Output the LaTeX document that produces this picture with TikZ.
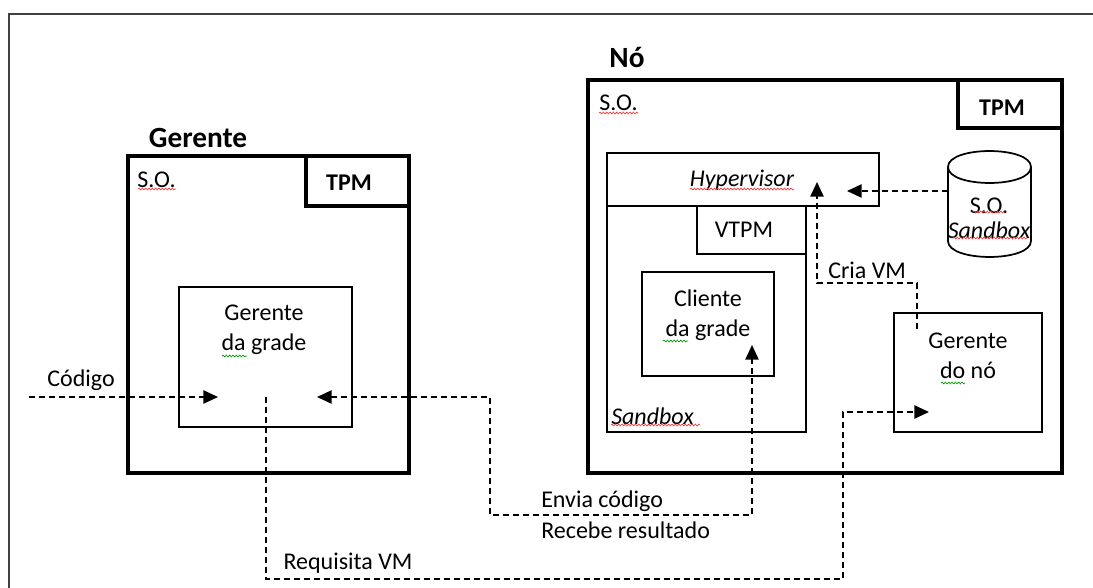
\documentclass[tikz,border=0pt]{standalone}
\usepackage{fontspec}
\setmainfont{Carlito}
\usetikzlibrary{arrows.meta,fit,decorations.pathmorphing}

\tikzset{
  thickbox/.style={draw, line width=2.6pt, inner sep=0pt},
  thinbox/.style={draw, line width=1.3pt, inner sep=0pt},
  flow/.style={line width=1.1pt, dash pattern=on 4.5pt off 3pt, >={Triangle[length=11pt,width=10pt]}},
  txt/.style={font=\fontsize{18}{22.5}\selectfont, inner sep=0pt, align=center},
  tpmtxt/.style={font=\fontsize{18}{22.5}\selectfont\bfseries, inner sep=0pt},
  ttl/.style={font=\fontsize{22}{26}\selectfont\bfseries, inner sep=0pt},
  squig/.style={red!80, line width=0.5pt, decorate, decoration={snake, segment length=2.5pt, amplitude=0.7pt}},
  squiggr/.style={squig, green!60!black},
}

\begin{document}
\begin{tikzpicture}[x=0.75pt, y=-0.75pt] %%% one unit = one pixel of the screenshot, y downwards
  \useasboundingbox (0,0) rectangle (1093,588);
  \draw[line width=1.1pt, black!75] (9,588) -- (9,14) -- (1093,14); %%% outer frame

  %%% gerente
  \node[ttl] (gertitle) at (198,138) {Gerente};
  \node[thickbox, fit={(128,156) (409,473)}] (ger) {};
  \node[thickbox, fit={(306,156) (409,206)}] (gertpm) {};
  \node[tpmtxt] (gertpmtxt) at (349,183) {TPM};
  \node[txt, anchor=west] (so1) at (137,180) {S.O.};
  \node[thinbox, fit={(179,287) (352,427)}] (gg) {};
  \node[txt] (ggtxt) at (264,330) {Gerente\\da grade};

  %%% no
  \node[ttl] (notitle) at (627,57) {Nó};
  \node[thickbox, fit={(588,80) (1062,473)}] (no) {};
  \node[thickbox, fit={(958,80) (1062,128)}] (notpm) {};
  \node[tpmtxt] (notpmtxt) at (1002,108) {TPM};
  \node[txt, anchor=west] (so2) at (599,103) {S.O.};

  \node[thinbox, fit={(607,153) (879,206)}] (hyp) {};
  \node[txt] (hyptxt) at (742,180) {\itshape Hypervisor};
  \node[thinbox, fit={(607,206) (806,432)}] (sbx) {};
  \node[txt, anchor=west] (sbxtxt) at (611,416) {\itshape Sandbox};
  \node[thinbox, fit={(697,206) (806,254)}] (vtpm) {};
  \node[txt] (vtpmtxt) at (744,230) {VTPM};
  \node[thinbox, fit={(642,272) (774,376)}] (cli) {};
  \node[txt] (clitxt) at (708,315) {Cliente\\da grade};
  \node[thinbox, fit={(894,313) (1042,432)}] (gno) {};
  \node[txt] (gnotxt) at (968,356) {Gerente\\do nó};

  %%% cylinder
  \draw[line width=1.3pt] (948,167) -- (948,241) .. controls (948,262.3) and (1031,262.3) .. (1031,241) -- (1031,167);
  \draw[line width=1.3pt] (948,167) .. controls (948,145.7) and (1031,145.7) .. (1031,167) .. controls (1031,188.3) and (948,188.3) .. (948,167);
  \node[txt, font=\fontsize{18}{19}\selectfont] (sosb) at (989,218) {S.O.\\\itshape Sandbox};

  %%% connector ends
  \coordinate (codin) at (29,397);
  \coordinate (ggin) at (218,397);
  \coordinate (ggres) at (317,397);
  \coordinate (clin) at (752,345);
  \coordinate (ggreq) at (266,397);
  \coordinate (gnoin) at (929,412);
  \coordinate (gnoout) at (917,329);
  \coordinate (hypin) at (817,182);
  \coordinate (cylout) at (948,191);
  \coordinate (hypin2) at (847,191);

  \draw[flow, ->] (codin) -- (ggin);
  \draw[flow, <->] (ggres) -| (490,515) -| (clin);
  \draw[flow, ->] (ggreq) |- (843,579) |- (gnoin);
  \draw[flow, ->] (gnoout) |- (817,283) -- (hypin);
  \draw[flow, ->] (cylout) -- (hypin2);

  %%% labels on the connectors
  \node[txt] (cod) at (81,380) {Código};
  \node[txt, align=left, font=\fontsize{18}{23}\selectfont, anchor=west] (env) at (541,515) {Envia código\\Recebe resultado};
  \node[txt] (req) at (348,563) {Requisita VM};
  \node[txt, anchor=west] (cria) at (828,270) {Cria VM};

  %%% spell-check underlines
  \draw[squig] (138,189) -- (176,189);
  \draw[squig] (599,113) -- (638,113);
  \draw[squig] (690,189) -- (794,189);
  \draw[squig] (611,425) -- (700,425);
  \draw[squig] (973,212) -- (1005,212);
  \draw[squig] (953,238) -- (1027,238);
  \draw[squiggr] (222,356) -- (247,356);
  \draw[squiggr] (663,341) -- (688,341);
  \draw[squiggr] (941,383) -- (965,383);
\end{tikzpicture}
\end{document}
